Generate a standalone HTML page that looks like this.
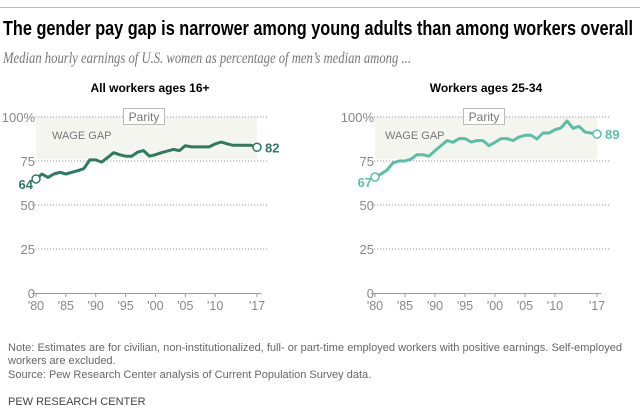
<!DOCTYPE html>
<html><head><meta charset="utf-8"><style>
html,body{margin:0;padding:0;background:#fff;}
svg{display:block;font-family:"Liberation Sans",sans-serif;}
</style></head><body>
<svg id="chart" width="640" height="414" viewBox="0 0 640 414">
<line x1="0" y1="7.5" x2="640" y2="7.5" stroke="#bbb" stroke-width="1"/>
<text x="3" y="35" font-family="Liberation Sans Narrow, Liberation Sans, sans-serif" font-weight="bold" font-size="20" fill="#000" textLength="630" lengthAdjust="spacingAndGlyphs">The gender pay gap is narrower among young adults than among workers overall</text>
<text x="3" y="63" font-family="Liberation Serif, serif" font-style="italic" font-size="15.5" fill="#777" textLength="408" lengthAdjust="spacingAndGlyphs">Median hourly earnings of U.S. women as percentage of men’s median among ...</text>
<g id="panels"></g>
<text x="8" y="351" font-size="11" fill="#666" textLength="614" lengthAdjust="spacingAndGlyphs">Note: Estimates are for civilian, non-institutionalized, full- or part-time employed workers with positive earnings. Self-employed</text>
<text x="8" y="364" font-size="11" fill="#666">workers are excluded.</text>
<text x="8" y="378" font-size="11" fill="#666">Source: Pew Research Center analysis of Current Population Survey data.</text>
<text x="8" y="405" font-size="11" fill="#444">PEW RESEARCH CENTER</text>
</svg>
<script>
const years=[1980,1981,1982,1983,1984,1985,1986,1987,1988,1989,1990,1991,1992,1993,1994,1995,1996,1997,1998,1999,2000,2001,2002,2003,2004,2005,2006,2007,2008,2009,2010,2011,2012,2013,2014,2015,2016,2017];
const allWorkers=[64.8,67.6,65.7,67.6,68.6,67.6,68.6,69.5,70.6,75.6,75.6,74.4,77,79.7,78.6,77.7,77.7,80,80.9,77.7,78.6,79.7,80.6,81.6,80.9,83.7,83,83,83,83,84.7,85.8,84.8,83.9,83.9,83.9,83.9,82.8];
const youngWorkers=[65.9,67.6,69.9,73.9,75,75,76.1,78.6,78.6,77.7,80.9,83.7,86.6,85.6,87.7,87.7,85.8,86.6,86.6,83.7,85.6,87.7,87.7,86.6,88.6,89.6,89.6,87.5,90.9,90.9,92.8,93.8,97.7,93.6,94.7,91.5,90.9,90.3];
const yTicks=[0,25,50,75,100];
const xTickYears=[1980,1985,1990,1995,2000,2005,2010,2017];
const xTickLabels=["'80","'85","'90","'95","'00","'05","'10","'17"];
const startLabels=["64","67"];
const endLabels=["82","89"];
const NS="http://www.w3.org/2000/svg";
const root=document.getElementById('panels');
function mk(tag,attrs,parent,txt){const e=document.createElementNS(NS,tag);for(const k in attrs)e.setAttribute(k,attrs[k]);if(txt!==undefined)e.textContent=txt;parent.appendChild(e);return e;}
const panels=[
 {title:"All workers ages 16+",data:allWorkers,x0:36,x1:257,gx0:32,gx1:267,color:"#2f7a61",tx:150,parX:123,gapX:52,start:startLabels[0],end:endLabels[0],key:"all"},
 {title:"Workers ages 25-34",data:youngWorkers,x0:375,x1:597,gx0:371,gx1:610,color:"#5bbfa8",tx:486,parX:463,gapX:385,start:startLabels[1],end:endLabels[1],key:"young"}
];
panels.forEach(p=>{
 const g=mk('g',{},root);
 
 
 const X=y=>p.x0+(y-1980)/(2017-1980)*(p.x1-p.x0);
 const Y=v=>293-v*1.76;
 const t=mk('text',{x:p.tx,y:92,'font-size':12,'font-weight':'bold','text-anchor':'middle',fill:'#000'},g,p.title);
 
 
 const r=mk('rect',{x:X(1980),y:Y(100),width:X(2017)-X(1980),height:Y(76)-Y(100),fill:'#f5f5f0'},g);
 
 
 yTicks.forEach(v=>{
  if(v>0){const l=mk('line',{x1:p.gx0,x2:p.gx1,y1:Y(v),y2:Y(v),stroke:'#999','stroke-dasharray':'1.2,1.8','stroke-width':1},g);
  
  }
  const tl=mk('text',{x:p.gx0+3,y:Y(v)+5,'font-size':13,fill:'#888','text-anchor':'end'},g,v===100?'100%':String(v));
  
  
 });
 const ax=mk('line',{x1:p.gx0,x2:p.x1+4,y1:293.5,y2:293.5,stroke:'#999'},g);
 
 
 xTickYears.forEach((yr,i)=>{
  const tk=mk('line',{x1:X(yr),x2:X(yr),y1:293,y2:297,stroke:'#999'},g);
  
  
  const lb=mk('text',{x:X(yr),y:310,'font-size':12.5,fill:'#888','text-anchor':'middle'},g,xTickLabels[i]);
  
  
 });
 const pb=mk('rect',{x:p.parX+0.5,y:108.5,width:41,height:16,fill:'#fff',stroke:'#bbb'},g);
 
 
 const pt=mk('text',{x:p.parX+21,y:121,'font-size':12,fill:'#777','text-anchor':'middle'},g,'Parity');
 
 
 const wg=mk('text',{x:p.gapX,y:139,'font-size':11,fill:'#777'},g,'WAGE GAP');
 
 
 const d=p.data.map((v,i)=>(i?'L':'M')+X(years[i]).toFixed(1)+','+Y(v).toFixed(1)).join('');
 const ln=mk('path',{d:d,fill:'none',stroke:p.color,'stroke-width':3,'stroke-linejoin':'round'},g);
 
 
 [[0,p.start],[p.data.length-1,p.end]].forEach(([i,lab],k)=>{
  const c=mk('circle',{cx:X(years[i]),cy:Y(p.data[i]),r:4,fill:'#fff',stroke:p.color,'stroke-width':1.5},g);
  
  
  const tx=k?mk('text',{x:X(years[i])+8,y:Y(p.data[i])+5,'font-size':13,'font-weight':'bold',fill:p.color},g,lab)
           :mk('text',{x:X(years[i])-3,y:Y(p.data[i])+10,'font-size':13,'font-weight':'bold',fill:p.color,'text-anchor':'end'},g,lab);
  
  
 });
});
</script>
</body></html>
